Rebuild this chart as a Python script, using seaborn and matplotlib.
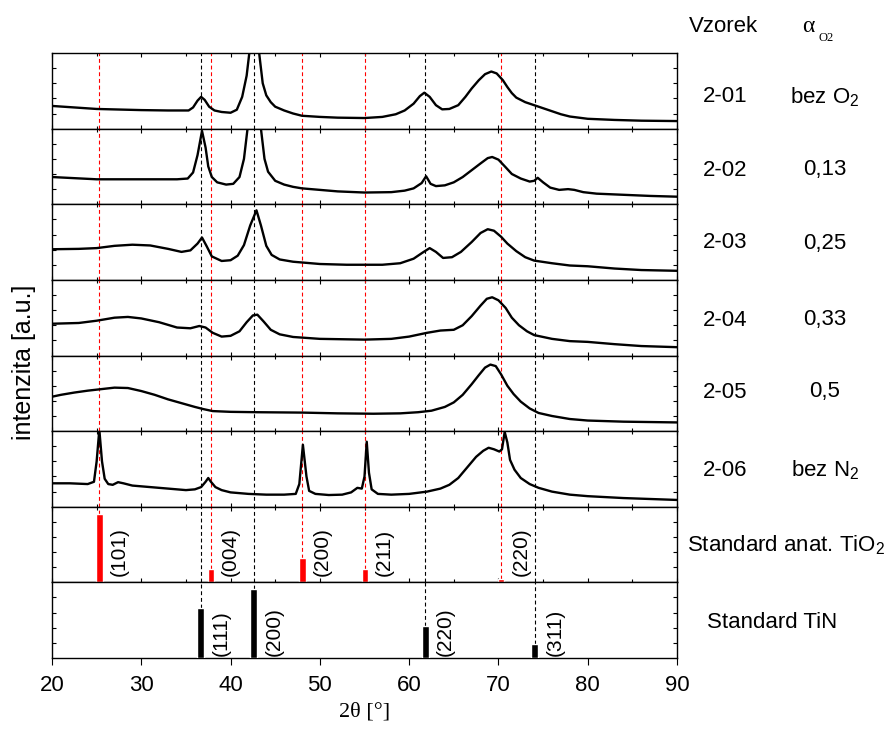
import numpy as np
import pandas as pd
import matplotlib
matplotlib.use("Agg")
import matplotlib.pyplot as plt
import seaborn as sns

# ---------------- data (panel-relative intensity, 0 = bottom, 1 = top) ----------------
x201 = [20, 25, 30, 33, 35.3, 35.8, 36.3, 36.7, 37.1, 37.6, 38.2, 39, 40, 40.7, 41.3, 41.8, 42.1, 42.6,
        43.2, 43.6, 44, 44.5, 45, 46, 47, 48, 50, 52, 55, 57, 58.5, 59.5, 60.5, 61.2, 61.7, 62.3, 63,
        63.7, 64.5, 65.5, 66.3, 67, 67.8, 68.5, 69.2, 69.8, 70.5, 71, 71.5, 72, 73, 74, 75, 76, 77, 78,
        80, 83, 86, 90]
y201 = [0.30, 0.26, 0.245, 0.24, 0.24, 0.28, 0.37, 0.42, 0.38, 0.29, 0.24, 0.22, 0.21, 0.25, 0.42, 0.70,
        1.0, 1.6, 1.0, 0.60, 0.44, 0.35, 0.29, 0.24, 0.20, 0.17, 0.155, 0.145, 0.14, 0.155, 0.19, 0.24,
        0.33, 0.43, 0.475, 0.42, 0.31, 0.255, 0.26, 0.31, 0.42, 0.53, 0.64, 0.72, 0.755, 0.73, 0.64, 0.55,
        0.47, 0.41, 0.35, 0.31, 0.27, 0.23, 0.19, 0.16, 0.13, 0.115, 0.105, 0.10]

x202 = [20, 25, 30, 34, 35.2, 35.8, 36.3, 36.8, 37.2, 37.5, 37.9, 38.5, 39.5, 40.3, 41, 41.5, 41.9, 42.6,
        43.4, 43.8, 44.2, 45, 46, 47, 48, 50, 52, 55, 58, 59.5, 60.5, 61.4, 61.9, 62.4, 63, 64, 65, 66,
        67, 68, 68.8, 69.3, 70, 70.8, 71.5, 72.5, 73.5, 74.0, 74.4, 75, 75.8, 76.8, 77.8, 78.5, 79.5, 81,
        84, 87, 90]
y202 = [0.36, 0.33, 0.33, 0.33, 0.34, 0.42, 0.65, 0.97, 0.75, 0.50, 0.36, 0.29, 0.26, 0.27, 0.36, 0.60,
        1.0, 1.6, 1.0, 0.60, 0.43, 0.31, 0.26, 0.23, 0.21, 0.19, 0.17, 0.155, 0.16, 0.18, 0.21, 0.28, 0.37,
        0.27, 0.24, 0.25, 0.29, 0.36, 0.45, 0.54, 0.61, 0.625, 0.59, 0.49, 0.40, 0.34, 0.30, 0.31, 0.35,
        0.29, 0.22, 0.19, 0.20, 0.19, 0.16, 0.14, 0.125, 0.11, 0.10]

x203 = [20, 23, 25, 27, 29, 31, 33, 34.5, 35.5, 36.3, 36.8, 37.3, 37.9, 39, 40, 40.8, 41.5, 42.2, 42.9,
        43.4, 44, 44.6, 45.5, 47, 50, 53, 57, 59, 60.5, 61.5, 62.3, 63, 63.8, 64.8, 65.8, 67, 68, 68.8,
        69.5, 70.3, 71, 72, 73, 74, 76, 78, 80, 83, 86, 90]
y203 = [0.405, 0.41, 0.42, 0.45, 0.465, 0.455, 0.41, 0.37, 0.39, 0.48, 0.56, 0.45, 0.31, 0.25, 0.26,
        0.32, 0.46, 0.72, 0.92, 0.72, 0.45, 0.33, 0.27, 0.24, 0.21, 0.20, 0.20, 0.22, 0.28, 0.36, 0.42,
        0.37, 0.29, 0.30, 0.37, 0.50, 0.62, 0.67, 0.65, 0.57, 0.48, 0.38, 0.30, 0.255, 0.22, 0.19, 0.18,
        0.15, 0.13, 0.12]

x204 = [20, 23, 25, 27, 28.5, 30, 32, 34, 35.5, 36.5, 37.2, 38, 39, 40, 41, 41.8, 42.5, 43, 43.7, 44.5,
        45.5, 47, 50, 55, 58, 60, 62, 63.5, 65, 66, 67, 68, 68.7, 69.3, 70, 70.8, 71.5, 72.3, 73.2, 74,
        76, 78, 80, 83, 86, 90]
y204 = [0.42, 0.43, 0.46, 0.50, 0.51, 0.49, 0.44, 0.37, 0.36, 0.39, 0.37, 0.30, 0.25, 0.26, 0.32, 0.44,
        0.53, 0.54, 0.45, 0.34, 0.28, 0.245, 0.22, 0.21, 0.22, 0.25, 0.30, 0.33, 0.34, 0.40, 0.52, 0.66,
        0.75, 0.77, 0.73, 0.63, 0.50, 0.40, 0.32, 0.27, 0.22, 0.19, 0.18, 0.15, 0.125, 0.11]

x205 = [20, 21, 22.5, 24, 25.5, 27, 28.5, 30, 31.5, 33, 34.5, 36, 37, 38, 40, 43, 48, 52, 56, 59, 61,
        62.5, 64, 65, 66, 67, 67.8, 68.5, 69.1, 69.7, 70.3, 71, 71.7, 72.5, 73.5, 74.5, 76, 78, 80, 84, 90]
y205 = [0.455, 0.48, 0.51, 0.535, 0.555, 0.575, 0.57, 0.53, 0.48, 0.42, 0.37, 0.32, 0.29, 0.265, 0.255,
        0.25, 0.245, 0.235, 0.23, 0.235, 0.25, 0.27, 0.32, 0.38, 0.48, 0.62, 0.74, 0.84, 0.88, 0.86, 0.75,
        0.60, 0.49, 0.39, 0.30, 0.24, 0.20, 0.16, 0.14, 0.125, 0.115]

x206 = [20, 22, 24, 24.7, 25.0, 25.3, 25.6, 25.9, 26.3, 26.8, 27.4, 28, 29, 31, 33, 35, 36, 36.7, 37.2,
        37.5, 37.8, 38.3, 39, 40, 42, 44, 46, 47.3, 47.7, 48.1, 48.5, 48.8, 49.5, 51, 52.5, 53.5, 54.2,
        54.7, 55.0, 55.25, 55.5, 55.8, 56.5, 58, 60, 62, 63.5, 64.5, 65.5, 66.5, 67.5, 68.3, 68.9, 69.5,
        70.1, 70.4, 70.7, 71.0, 71.3, 71.8, 72.5, 73.5, 74.5, 76, 78, 80, 84, 90]
y206 = [0.31, 0.31, 0.30, 0.33, 0.60, 1.02, 0.60, 0.37, 0.30, 0.29, 0.325, 0.31, 0.28, 0.26, 0.24, 0.22,
        0.23, 0.26, 0.33, 0.38, 0.33, 0.26, 0.22, 0.19, 0.17, 0.16, 0.16, 0.17, 0.30, 0.82, 0.40, 0.21,
        0.17, 0.155, 0.16, 0.19, 0.25, 0.24, 0.40, 0.86, 0.45, 0.23, 0.17, 0.16, 0.17, 0.20, 0.24, 0.29,
        0.38, 0.52, 0.66, 0.74, 0.78, 0.76, 0.73, 0.76, 0.99, 0.85, 0.62, 0.49, 0.38, 0.30, 0.25, 0.20,
        0.16, 0.14, 0.115, 0.09]

samples = ["2-01", "2-02", "2-03", "2-04", "2-05", "2-06"]
alphas = ["bez O$_2$", "0,13", "0,25", "0,33", "0,5", "bez N$_2$"]

tio2_pos = [25.3, 37.8, 48.05, 55.06, 70.3]
tio2_int = [0.91, 0.18, 0.32, 0.18, 0.05]
tio2_hkl = ["(101)", "(004)", "(200)", "(211)", "(220)"]

tin_pos = [36.66, 42.6, 61.8, 74.07]
tin_int = [0.665, 0.915, 0.42, 0.19]
tin_hkl = ["(111)", "(200)", "(220)", "(311)"]

xticks = [20, 30, 40, 50, 60, 70, 80, 90]

# ---------------- style ----------------
sns.set_theme(style="ticks")
plt.rcParams["font.family"] = ["Liberation Sans", "DejaVu Sans"]
plt.rcParams["mathtext.fontset"] = "custom"
plt.rcParams["mathtext.rm"] = "Liberation Sans"
plt.rcParams["mathtext.it"] = "Liberation Sans"
plt.rcParams["axes.linewidth"] = 1.0
plt.rcParams["axes.edgecolor"] = "black"
plt.rcParams["text.color"] = "black"
plt.rcParams["axes.labelcolor"] = "black"
plt.rcParams["xtick.color"] = "black"
plt.rcParams["ytick.color"] = "black"

W, H = 893, 731
fig, axes = plt.subplots(8, 1, figsize=(W / 100, H / 100), dpi=100, sharex=True,
                         gridspec_kw=dict(hspace=0))
fig.subplots_adjust(left=52 / W, right=677 / W, top=1 - 53 / H, bottom=1 - 658 / H)

patterns = [(x201, y201), (x202, y202), (x203, y203), (x204, y204), (x205, y205), (x206, y206)]
dash = (0, (3.5, 2.5))

for i, (xs, ys) in enumerate(patterns):
    ax = axes[i]
    df = pd.DataFrame({"x": xs, "y": ys})
    for p in tio2_pos:
        ax.axvline(p, color="red", ls=dash, lw=0.8, zorder=1)
    for p in tin_pos:
        ax.axvline(p, color="black", ls=dash, lw=0.8, zorder=1)
    sns.lineplot(data=df, x="x", y="y", ax=ax, color="black", lw=1.7,
                 estimator=None, sort=False, zorder=3)

# anatase standard
ax = axes[6]
sns.lineplot(x=[20, 90], y=[-1, -1], ax=ax, color="none")
ax.bar(tio2_pos, tio2_int, width=0.75, color="red", zorder=3)
for p, h, lab in zip(tio2_pos, tio2_int, tio2_hkl):
    ax.axvline(p, ymin=h, ymax=1, color="red", ls=dash, lw=0.8, zorder=1)
    ax.text(p + 2.2, 0.08, lab, rotation=90, ha="center", va="bottom", fontsize=15,
            color="black")
for p in tin_pos:
    ax.axvline(p, color="black", ls=dash, lw=0.8, zorder=1)

# TiN standard
ax = axes[7]
sns.lineplot(x=[20, 90], y=[-1, -1], ax=ax, color="none")
ax.bar(tin_pos, tin_int, width=0.75, color="black", zorder=3)
for p, h, lab in zip(tin_pos, tin_int, tin_hkl):
    ax.axvline(p, ymin=h, ymax=1, color="black", ls=dash, lw=0.8, zorder=1)
    ax.text(p + 2.3, 0.03, lab, rotation=90, ha="center", va="bottom", fontsize=15,
            color="black")

for i, ax in enumerate(axes):
    ax.set_xlim(20, 90)
    ax.set_ylim(0, 1)
    ax.set_ylabel("")
    ax.set_xlabel("")
    ax.set_yticks([0.2, 0.4, 0.6, 0.8])
    ax.set_yticklabels([])
    ax.tick_params(axis="y", direction="in", left=True, right=True, length=3, width=0.8)
    ax.set_xticks(xticks)
    ax.set_xticks([25, 35, 45, 55, 65, 75, 85], minor=True)
    for s in ax.spines.values():
        s.set_visible(True)
        s.set_color("black")
    if i < 7:
        ax.tick_params(axis="x", which="both", direction="in", top=True, bottom=True,
                       length=3, width=0.8, labelbottom=False)
        ax.tick_params(axis="x", which="minor", length=2)
    else:
        ax.tick_params(axis="x", which="major", direction="out", top=False, bottom=True,
                       length=5, width=0.8, labelsize=16, pad=7, labelcolor="black")
        ax.tick_params(axis="x", which="minor", bottom=False, top=False)
        ax.set_xticklabels([str(t) for t in xticks])

axes[7].set_xlabel("2θ [°]", family="Liberation Serif", fontsize=16, labelpad=5,
                   color="black")

# y label
fig.text(24 / W, 1 - 362 / H, "intenzita [a.u.]", rotation=90, ha="center", va="center",
         fontsize=18, color="black")

# right side table
fs = 16
fig.text(723 / W, 1 - 27 / H, "Vzorek", ha="center", va="center", fontsize=fs)
fig.text(808 / W, 1 - 27 / H, "α", ha="center", va="center", fontsize=17,
         family="Liberation Serif")
fig.text(826 / W, 1 - 38 / H, "O2", ha="center", va="center", fontsize=9,
         family="Liberation Serif")
ys_lab = [97, 170, 243, 320, 392, 470]
for s, a, yy in zip(samples, alphas, ys_lab):
    fig.text(725 / W, 1 - yy / H, s, ha="center", va="center", fontsize=fs)
    fig.text(825 / W, 1 - yy / H, a, ha="center", va="center", fontsize=fs)
fig.text(786 / W, 1 - 545 / H, "Standard anat. TiO$_2$", ha="center", va="center", fontsize=fs)
fig.text(772 / W, 1 - 623 / H, "Standard TiN", ha="center", va="center", fontsize=fs)

fig.savefig("out.png", dpi=100, facecolor="white")
